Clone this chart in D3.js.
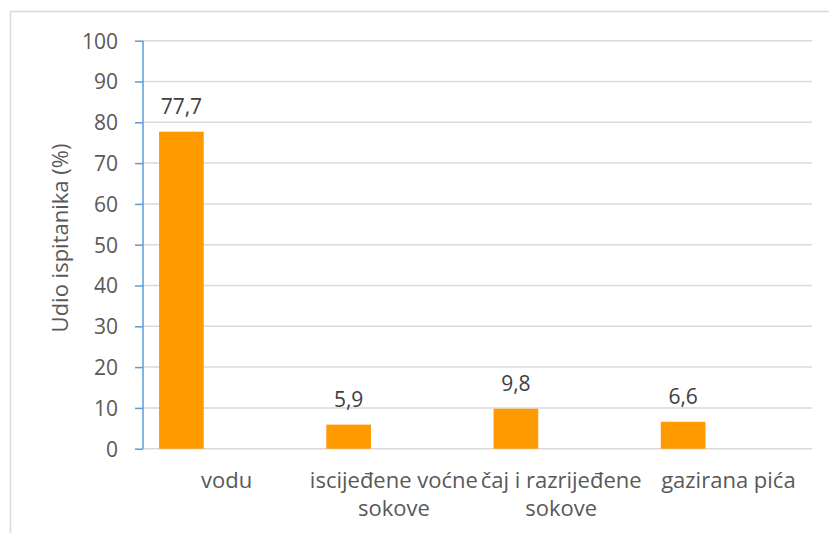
<!DOCTYPE html>
<html lang="hr">
<head>
<meta charset="UTF-8">
<title>Udio ispitanika</title>
<script src="https://d3js.org/d3.v7.min.js"></script>
<style>
    body { margin: 0; background: #fff; }
    svg text { font-family: "Open Sans", sans-serif; fill: #595959; }
    .grid line { stroke: #d9d9d9; stroke-width: 1.5; }
    .value { fill: #404040; }
</style>
</head>
<body>
<svg width="829" height="533"></svg>
<script>
    // categories (split into lines as in the picture)
    const categories = ["vodu", "iscijeđene voćne sokove", "čaj i razrijeđene sokove", "gazirana pića"];
    const categoryLines = [["vodu"], ["iscijeđene voćne", "sokove"], ["čaj i razrijeđene", "sokove"], ["gazirana pića"]];
    const values = [77.7, 5.9, 9.8, 6.6];
    const yTicks = [0, 10, 20, 30, 40, 50, 60, 70, 80, 90, 100];

    const margin = {top: 40.7, left: 143, right: 17, bottom: 84.3};
    const W = 829, H = 533;
    const width = W - margin.left - margin.right,
          height = H - margin.top - margin.bottom;

    const svg = d3.select("svg");

    // outer chart frame
    svg.append("rect")
        .attr("x", 10.5).attr("y", 11.5)
        .attr("width", 830).attr("height", 540)
        .attr("fill", "none")
        .attr("stroke", "#d9d9d9")
        .attr("stroke-width", 1.5);

    const g = svg.append("g")
        .attr("transform", "translate(" + margin.left + "," + margin.top + ")");

    const x = d3.scaleBand()
        .domain(categories)
        .range([0, width]);

    const y = d3.scaleLinear()
        .domain([0, 100])
        .range([height, 0]);

    // gridlines
    g.append("g")
        .attr("class", "grid")
        .selectAll("line")
        .data(yTicks)
        .enter().append("line")
        .attr("x1", 0)
        .attr("x2", width)
        .attr("y1", d => y(d))
        .attr("y2", d => y(d));

    // bars sit in the left part of each band
    const barOffset = x.bandwidth() * 0.096,
          barWidth = x.bandwidth() * 0.267;

    g.selectAll(".bar")
        .data(values)
        .enter().append("rect")
        .attr("class", "bar")
        .attr("x", (d, i) => x(categories[i]) + barOffset)
        .attr("y", d => y(d))
        .attr("width", barWidth)
        .attr("height", d => height - y(d))
        .attr("fill", "#ff9900");

    g.selectAll(".value")
        .data(values)
        .enter().append("text")
        .attr("class", "value")
        .attr("x", (d, i) => x(categories[i]) + barOffset + barWidth / 2)
        .attr("y", d => y(d) - 18)
        .attr("text-anchor", "middle")
        .style("font-size", "21px")
        .text(d => d3.format(".1f")(d).replace(".", ","));

    // y axis
    const yAxis = g.append("g")
        .call(d3.axisLeft(y).tickValues(yTicks).tickSize(8).tickPadding(17));
    yAxis.select(".domain").attr("stroke", "#5b9bd5").attr("stroke-width", 1.5)
        .attr("d", "M0," + y(0) + "V" + y(100));
    yAxis.selectAll(".tick line").attr("stroke", "#5b9bd5").attr("stroke-width", 1.5);
    yAxis.selectAll(".tick text")
        .style("font-size", "21px")
        .style("font-family", "'Open Sans', sans-serif")
        .attr("fill", "#595959")
        .attr("dy", "0.35em");

    // category labels
    categoryLines.forEach((lines, i) => {
        const t = g.append("text")
            .attr("text-anchor", "middle")
            .style("font-size", "22px");
        lines.forEach((ln, j) => {
            t.append("tspan")
                .attr("x", x(categories[i]) + x.bandwidth() / 2)
                .attr("y", height + 39 + j * 28)
                .text(ln);
        });
    });

    // y axis title
    svg.append("text")
        .attr("transform", "translate(68,238) rotate(-90)")
        .attr("text-anchor", "middle")
        .style("font-size", "22px")
        .text("Udio ispitanika (%)");
</script>
</body>
</html>
